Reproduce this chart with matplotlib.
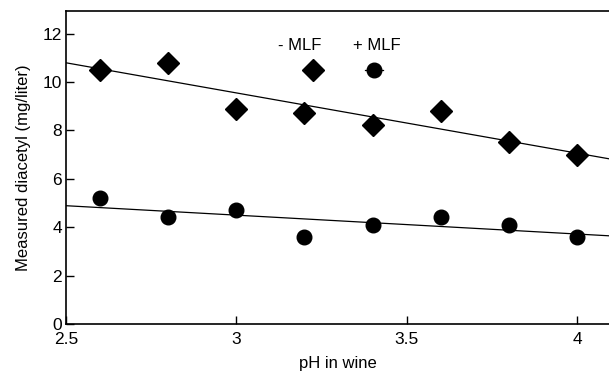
import matplotlib
matplotlib.use("Agg")
import matplotlib.pyplot as plt
import numpy as np

plt.rcParams['font.family'] = ['Liberation Sans', 'DejaVu Sans']

ph = [2.6, 2.8, 3.0, 3.2, 3.4, 3.6, 3.8, 4.0]
no_mlf = [10.5, 10.8, 8.9, 8.7, 8.2, 8.8, 7.5, 7.0]
with_mlf = [5.2, 4.4, 4.7, 3.6, 4.1, 4.4, 4.1, 3.6]

xticks = [2.5, 3, 3.5, 4]
xtick_labels = ["2.5", "3", "3.5", "4"]
yticks = [0, 2, 4, 6, 8, 10, 12]

fig = plt.figure(figsize=(6.09, 3.73), dpi=100)
ax = fig.add_axes([0.1084, 0.1314, 0.8916, 0.8391])

xlim = (2.5, 4.094)
xs = np.array(xlim)

# regression lines
for ys in (no_mlf, with_mlf):
    k, b = np.polyfit(ph, ys, 1)
    ax.plot(xs, k * xs + b, color="black", lw=0.9)

ax.plot(ph, no_mlf, "D", color="black", ms=11, ls="none")
ax.plot(ph, with_mlf, "o", color="black", ms=10.5, ls="none")

# legend drawn by hand: label above symbol
ax.text(0.431, 0.891, "- MLF", transform=ax.transAxes, fontsize=12,
        ha="center", va="center")
ax.text(0.572, 0.891, "+ MLF", transform=ax.transAxes, fontsize=12,
        ha="center", va="center")
ax.plot([0.455], [0.81], "D", color="black", ms=11, transform=ax.transAxes)
ax.plot([0.551, 0.584], [0.81, 0.81], color="black", lw=0.9, transform=ax.transAxes)
ax.plot([0.567], [0.81], "o", color="black", ms=10.5, transform=ax.transAxes)

ax.set_xlim(*xlim)
ax.set_ylim(0, 12.93)
ax.set_xticks(xticks)
ax.set_xticklabels(xtick_labels)
ax.set_yticks(yticks)
ax.tick_params(direction="in", length=6, width=1, labelsize=12.5, pad=3)
ax.tick_params(axis="x", pad=6)
ax.spines["right"].set_visible(False)
for s in ("left", "bottom", "top"):
    ax.spines[s].set_linewidth(1.2)

ax.set_xlabel("pH in wine", fontsize=12, labelpad=6)
ax.set_ylabel("Measured diacetyl (mg/liter)", fontsize=12, labelpad=8)

plt.savefig("out.png", dpi=100)
